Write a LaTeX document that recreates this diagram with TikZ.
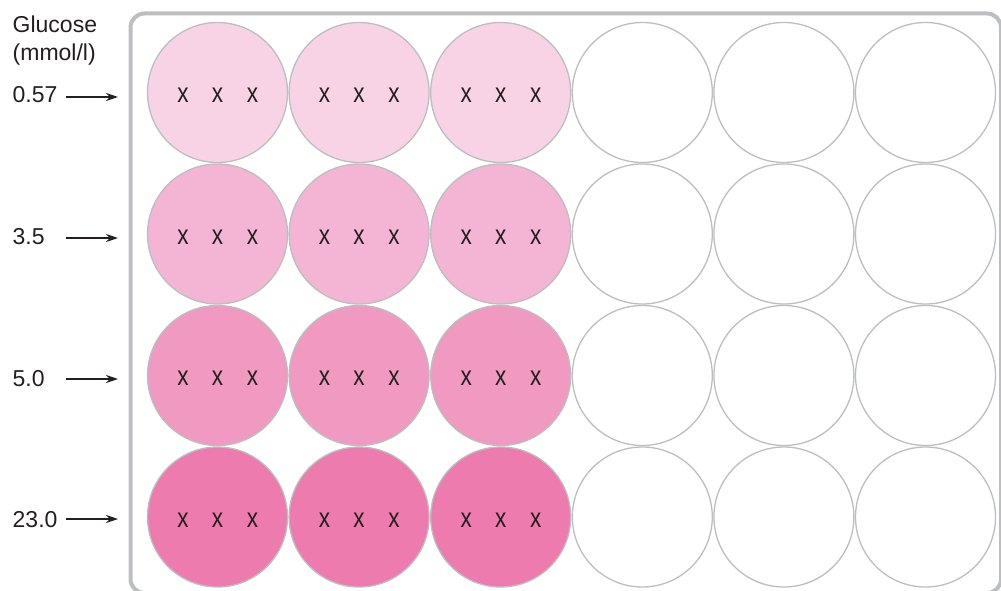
\documentclass[tikz,border=0pt]{standalone}
\usepackage{fontspec}
\setmainfont{Liberation Sans}
\usetikzlibrary{arrows.meta}
\definecolor{plategray}{HTML}{BCBEC0}
\definecolor{ink}{HTML}{231F20}
\definecolor{rowA}{HTML}{F8D3E5}
\definecolor{rowB}{HTML}{F4B5D4}
\definecolor{rowC}{HTML}{F09AC2}
\definecolor{rowD}{HTML}{EE7BAE}
\begin{document}
\begin{tikzpicture}[x=1pt,y=-1pt,
  well/.style={circle,draw=plategray,line width=1.3pt,minimum size=140pt,inner sep=0pt},
  lbl/.style={font=\fontsize{23}{28}\selectfont,text=ink,inner sep=0pt,anchor=base west},
  rep/.style={font=\fontsize{27.5}{30}\selectfont,text=ink,inner sep=0pt,anchor=base,xscale=0.82},
  conc/.style={-{Stealth[length=12pt,width=8pt]},draw=ink,line width=1.5pt},
  plate/.style={draw=plategray,line width=4pt,rounded corners=14pt}]
\useasboundingbox (0,0) rectangle (1001,591);
% plate outline
\draw[plate] (130.5,13.5) rectangle (1001,593);
% header
\node[lbl] (hdrA) at (12.5,33) {Glucose};
\node[lbl] (hdrB) at (12.5,61) {(mmol/l)};
% rows
\foreach \r/\y/\ay/\col/\t in {1/92.5/97/rowA/0.57, 2/234/238/rowB/3.5, 3/375.5/379/rowC/5.0, 4/517/519/rowD/23.0}{
  \node[lbl] (lab\r) at (12.5,\y+10.5) {\t};
  \coordinate (as\r) at (66,\ay);
  \coordinate (ae\r) at (118,\ay);
  \draw[conc] (as\r) -- (ae\r);
  \foreach \c in {1,2,3}{
    \node[well,fill=\col] (w\r\c) at ({217.5+(\c-1)*141.6},\y) {};
    \node[rep] (xa\r\c) at ([shift={(-34.5,10.2)}]w\r\c.center) {x};
    \node[rep] (xb\r\c) at ([shift={(0,10.2)}]w\r\c.center) {x};
    \node[rep] (xc\r\c) at ([shift={(35,10.2)}]w\r\c.center) {x};
  }
  \foreach \c in {4,5,6}{
    \node[well,fill=white] (w\r\c) at ({217.5+(\c-1)*141.6},\y) {};
  }
}
\end{tikzpicture}
\end{document}
